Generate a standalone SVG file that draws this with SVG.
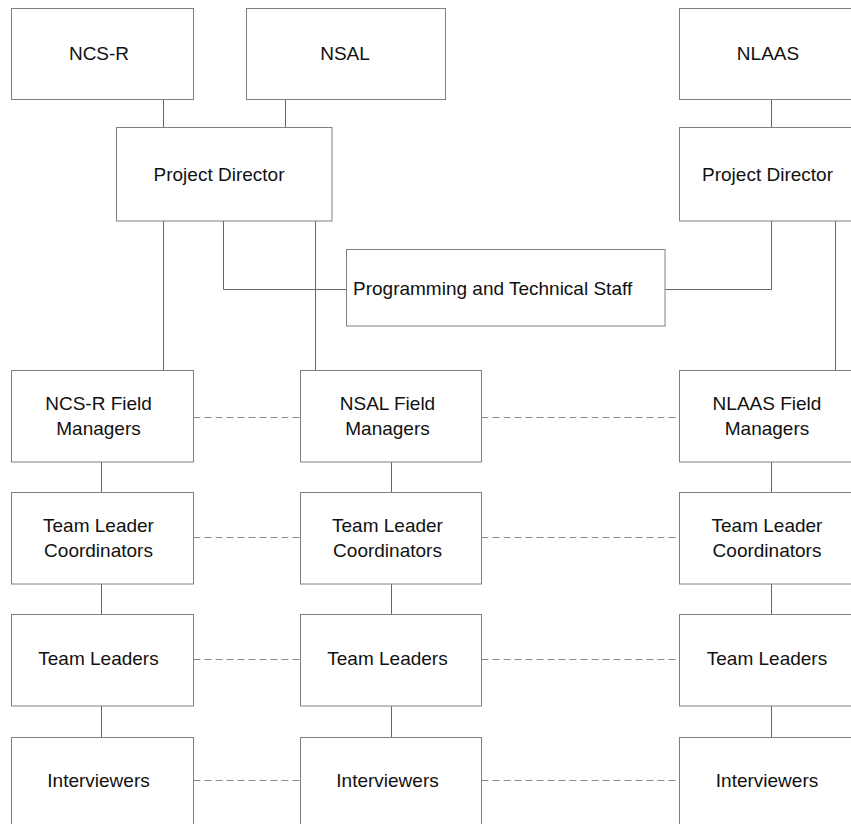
<svg xmlns="http://www.w3.org/2000/svg" width="851" height="824" viewBox="0 0 851 824">
<style>
.box{fill:#fff;stroke:#808080;stroke-width:1}
.t{font-family:"Liberation Sans",Arial,sans-serif;font-size:19px;fill:#111;text-anchor:middle}
.ln{fill:none;stroke:#666;stroke-width:1}
.dash{fill:none;stroke:#8c8c8c;stroke-width:1;stroke-dasharray:7,4}
</style>
<rect width="851" height="824" fill="#fff"/>
<g id="connectors">
<line class="ln" x1="163.5" y1="99.5" x2="163.5" y2="127.5"/>
<line class="ln" x1="285.5" y1="99.5" x2="285.5" y2="127.5"/>
<line class="ln" x1="771.5" y1="100" x2="771.5" y2="127.5"/>
<line class="ln" x1="163.5" y1="221" x2="163.5" y2="370.5"/>
<polyline class="ln" points="223.5,221 223.5,289.5 346.5,289.5"/>
<line class="ln" x1="315.5" y1="221" x2="315.5" y2="370.5"/>
<polyline class="ln" points="771.5,221 771.5,289.5 665,289.5"/>
<line class="ln" x1="835.5" y1="221" x2="835.5" y2="370.5"/>
<line class="ln" x1="101.5" y1="462" x2="101.5" y2="492.5"/>
<line class="ln" x1="101.5" y1="584" x2="101.5" y2="614.5"/>
<line class="ln" x1="101.5" y1="706" x2="101.5" y2="737.5"/>
<line class="ln" x1="391.5" y1="462" x2="391.5" y2="492.5"/>
<line class="ln" x1="391.5" y1="584" x2="391.5" y2="614.5"/>
<line class="ln" x1="391.5" y1="706" x2="391.5" y2="737.5"/>
<line class="ln" x1="771.5" y1="462" x2="771.5" y2="492.5"/>
<line class="ln" x1="771.5" y1="584" x2="771.5" y2="614.5"/>
<line class="ln" x1="771.5" y1="706" x2="771.5" y2="737.5"/>
<line class="dash" x1="193.5" y1="417.5" x2="300.5" y2="417.5"/>
<line class="dash" x1="481.5" y1="417.5" x2="679.5" y2="417.5"/>
<line class="dash" x1="193.5" y1="537.5" x2="300.5" y2="537.5"/>
<line class="dash" x1="481.5" y1="537.5" x2="679.5" y2="537.5"/>
<line class="dash" x1="193.5" y1="659.5" x2="300.5" y2="659.5"/>
<line class="dash" x1="481.5" y1="659.5" x2="679.5" y2="659.5"/>
<line class="dash" x1="193.5" y1="780.5" x2="300.5" y2="780.5"/>
<line class="dash" x1="481.5" y1="780.5" x2="679.5" y2="780.5"/>
</g>
<g id="ncsr"><rect class="box" x="11.5" y="8.5" width="182" height="91"/><text class="t" x="99" y="60">NCS-R</text></g>
<g id="nsal"><rect class="box" x="246.5" y="8.5" width="199" height="91"/><text class="t" x="345" y="60">NSAL</text></g>
<g id="nlaas"><rect class="box" x="679.5" y="8.5" width="182" height="91"/><text class="t" x="768" y="60">NLAAS</text></g>
<g id="pd-left"><rect class="box" x="116.5" y="127.5" width="215.5" height="93.5"/><text class="t" x="219" y="181">Project Director</text></g>
<g id="pd-right"><rect class="box" x="679.5" y="127.5" width="182" height="93.5"/><text class="t" x="767.5" y="181">Project Director</text></g>
<g id="prog"><rect class="box" x="346.5" y="249.5" width="318.5" height="76.5"/><text class="t" x="353" y="295" style="text-anchor:start">Programming and Technical Staff</text></g>
<g id="fm-ncsr"><rect class="box" x="11.5" y="370.5" width="182" height="91.5"/><text class="t" x="98.5" y="409.5">NCS-R Field</text><text class="t" x="98.5" y="434.5">Managers</text></g>
<g id="fm-nsal"><rect class="box" x="300.5" y="370.5" width="181" height="91.5"/><text class="t" x="387.5" y="409.5">NSAL Field</text><text class="t" x="387.5" y="434.5">Managers</text></g>
<g id="fm-nlaas"><rect class="box" x="679.5" y="370.5" width="182" height="91.5"/><text class="t" x="767" y="409.5">NLAAS Field</text><text class="t" x="767" y="434.5">Managers</text></g>
<g id="tlc-ncsr"><rect class="box" x="11.5" y="492.5" width="182" height="91.5"/><text class="t" x="98.5" y="531.5">Team Leader</text><text class="t" x="98.5" y="556.5">Coordinators</text></g>
<g id="tlc-nsal"><rect class="box" x="300.5" y="492.5" width="181" height="91.5"/><text class="t" x="387.5" y="531.5">Team Leader</text><text class="t" x="387.5" y="556.5">Coordinators</text></g>
<g id="tlc-nlaas"><rect class="box" x="679.5" y="492.5" width="182" height="91.5"/><text class="t" x="767" y="531.5">Team Leader</text><text class="t" x="767" y="556.5">Coordinators</text></g>
<g id="tl-ncsr"><rect class="box" x="11.5" y="614.5" width="182" height="91.5"/><text class="t" x="98.5" y="665">Team Leaders</text></g>
<g id="tl-nsal"><rect class="box" x="300.5" y="614.5" width="181" height="91.5"/><text class="t" x="387.5" y="665">Team Leaders</text></g>
<g id="tl-nlaas"><rect class="box" x="679.5" y="614.5" width="182" height="91.5"/><text class="t" x="767" y="665">Team Leaders</text></g>
<g id="int-ncsr"><rect class="box" x="11.5" y="737.5" width="182" height="91.5"/><text class="t" x="98.5" y="787">Interviewers</text></g>
<g id="int-nsal"><rect class="box" x="300.5" y="737.5" width="181" height="91.5"/><text class="t" x="387.5" y="787">Interviewers</text></g>
<g id="int-nlaas"><rect class="box" x="679.5" y="737.5" width="182" height="91.5"/><text class="t" x="767" y="787">Interviewers</text></g>
</svg>
